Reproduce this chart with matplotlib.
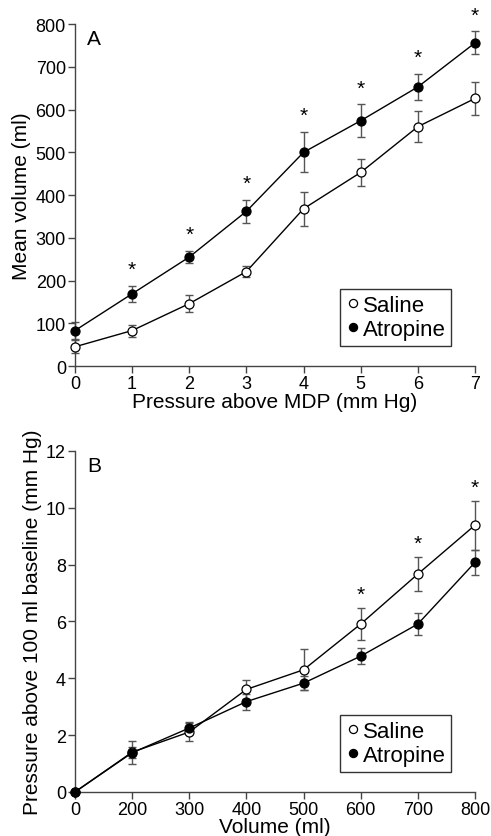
import matplotlib
matplotlib.use('Agg')
import matplotlib.pyplot as plt
import numpy as np

plt.rcParams['font.family'] = ['Liberation Sans', 'DejaVu Sans']

# Panel A: volume vs pressure above MDP
pressure = [0, 1, 2, 3, 4, 5, 6, 7]
vol_saline = [45, 83, 146, 221, 368, 453, 560, 626]
vol_saline_err = [15, 14, 20, 13, 40, 31, 36, 39]
vol_atropine = [83, 169, 255, 362, 500, 574, 653, 756]
vol_atropine_err = [19, 19, 14, 27, 47, 38, 30, 27]
stars_a = [1, 2, 3, 4, 5, 6, 7]

# Panel B: pressure vs volume
volume_labels = ['0', '200', '300', '400', '500', '600', '700', '800']
pr_saline = [0, 1.40, 2.11, 3.61, 4.30, 5.91, 7.67, 9.39]
pr_saline_err = [0, 0.40, 0.30, 0.33, 0.72, 0.56, 0.60, 0.86]
pr_atropine = [0, 1.38, 2.25, 3.18, 3.83, 4.78, 5.91, 8.08]
pr_atropine_err = [0, 0.20, 0.20, 0.28, 0.25, 0.28, 0.38, 0.43]
stars_b = [5, 6, 7]

fig = plt.figure(figsize=(4.91, 8.37), dpi=100)
axA = fig.add_axes([0.1527, 0.5615, 0.8147, 0.4085])
axB = fig.add_axes([0.1527, 0.0526, 0.8147, 0.4074])

ecol = '#555555'


def draw(ax, x, ys, es, ya, ea):
    ax.errorbar(x, ys, yerr=es, fmt='none', ecolor=ecol, elinewidth=1, capsize=3, capthick=1, clip_on=False, zorder=2)
    ax.errorbar(x, ya, yerr=ea, fmt='none', ecolor=ecol, elinewidth=1, capsize=3, capthick=1, clip_on=False, zorder=2)
    ax.plot(x, ys, '-o', color='black', mfc='white', mec='black', ms=6.5, mew=0.9, lw=1, clip_on=False, zorder=3, label='Saline')
    ax.plot(x, ya, '-o', color='black', mfc='black', mec='black', ms=6.5, mew=0.9, lw=1, clip_on=False, zorder=4, label='Atropine')
    for s in ['top', 'right']:
        ax.spines[s].set_visible(False)
    for s in ['left', 'bottom']:
        ax.spines[s].set_color('#444444')
        ax.spines[s].set_linewidth(1)
    ax.tick_params(direction='out', length=5, width=1, color='#444444', labelsize=13, pad=1.5)
    leg = ax.legend(loc='lower right', bbox_to_anchor=(0.94, 0.06), fontsize=16, frameon=True, fancybox=False,
                    edgecolor='black', handlelength=0.6, handletextpad=0.15, borderpad=0.25, labelspacing=0.15,
                    markerscale=0.9, borderaxespad=0)
    leg.get_frame().set_linewidth(1)
    for h in leg.legend_handles:
        h.set_linestyle('none')


draw(axA, pressure, vol_saline, vol_saline_err, vol_atropine, vol_atropine_err)
axA.set_xlim(0, 7)
axA.set_ylim(0, 800)
axA.set_xticks(pressure)
axA.set_yticks(range(0, 801, 100))
axA.set_xlabel('Pressure above MDP (mm Hg)', fontsize=15, labelpad=0)
axA.set_ylabel('Mean volume (ml)', fontsize=15, labelpad=3)
axA.text(0.03, 0.985, 'A', transform=axA.transAxes, fontsize=15, va='top', ha='left')
for i in stars_a:
    axA.annotate('*', (pressure[i], vol_atropine[i] + vol_atropine_err[i]), xytext=(0, 5),
                 textcoords='offset points', ha='center', va='bottom', fontsize=15, annotation_clip=False)

xb = np.arange(len(volume_labels))
draw(axB, xb, pr_saline, pr_saline_err, pr_atropine, pr_atropine_err)
axB.set_xlim(0, 7)
axB.set_ylim(0, 12)
axB.set_xticks(xb)
axB.set_xticklabels(volume_labels)
axB.set_yticks(range(0, 13, 2))
axB.set_xlabel('Volume (ml)', fontsize=15, labelpad=-1)
axB.set_ylabel('Pressure above 100 ml baseline (mm Hg)', fontsize=15, labelpad=3)
axB.text(0.03, 0.985, 'B', transform=axB.transAxes, fontsize=15, va='top', ha='left')
for i in stars_b:
    axB.annotate('*', (xb[i], pr_saline[i] + pr_saline_err[i]), xytext=(0, 3),
                 textcoords='offset points', ha='center', va='bottom', fontsize=15, annotation_clip=False)

fig.savefig('out.png', dpi=100)
